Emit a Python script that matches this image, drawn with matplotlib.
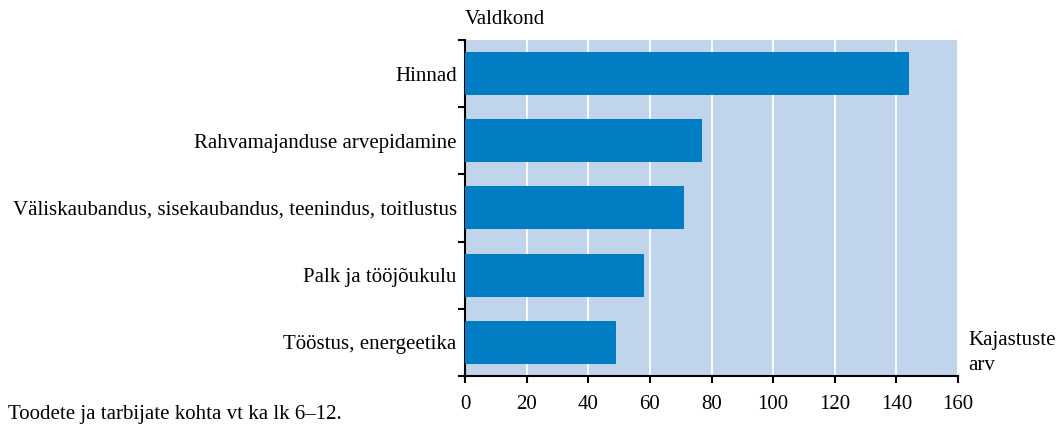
import numpy as np
import matplotlib.pyplot as plt

# ------------------------------------------------------------
# Data
# ------------------------------------------------------------
categories = [
    "Hinnad",
    "Rahvamajanduse arvepidamine",
    "Väliskaubandus, sisekaubandus, teenindus, toitlustus",
    "Palk ja tööjõukulu",
    "Tööstus, energeetika",
]
counts = [144, 77, 71, 58, 49]
x_ticks = [0, 20, 40, 60, 80, 100, 120, 140, 160]

BAR_COLOR = "#007DC3"
BG_COLOR = "#C0D4EC"
FS = 15

plt.rcParams["font.family"] = ["Liberation Serif", "DejaVu Serif"]

fig = plt.figure(figsize=(10.58, 4.24), dpi=100)
ax = fig.add_axes([0.4395, 0.1132, 0.466, 0.7925])
ax.set_facecolor(BG_COLOR)

y = np.arange(len(categories))
ax.barh(y, counts, height=0.64, color=BAR_COLOR, zorder=3)

ax.set_xlim(0, 160)
ax.set_ylim(len(categories) - 0.5, -0.5)
ax.set_xticks(x_ticks)
ax.set_xticklabels([str(v) for v in x_ticks], fontsize=FS)
ax.grid(axis="x", color="white", linewidth=1.3, zorder=1)

ax.set_yticks(y)
ax.set_yticklabels(categories, fontsize=FS)
ax.tick_params(axis="y", which="major", length=0, pad=6)
ax.set_yticks(np.arange(-0.5, len(categories), 1.0), minor=True)
ax.tick_params(axis="y", which="minor", length=5, width=1.5, direction="out")
ax.tick_params(axis="x", length=5, width=1.5, direction="out", pad=9)

for side in ["top", "right"]:
    ax.spines[side].set_visible(False)
for side in ["left", "bottom"]:
    ax.spines[side].set_linewidth(1.5)

fig.text(465 / 1058, 1 - 20 / 424, "Valdkond", fontsize=FS, va="center", ha="left")
fig.text(968 / 1058, 1 - 353 / 424, "Kajastuste\narv", fontsize=FS,
         va="center", ha="left", linespacing=1.4)
fig.text(8 / 1058, 1 - 414 / 424, "Toodete ja tarbijate kohta vt ka lk 6–12.",
         fontsize=FS, va="center", ha="left")

fig.savefig("out.png", dpi=100)
